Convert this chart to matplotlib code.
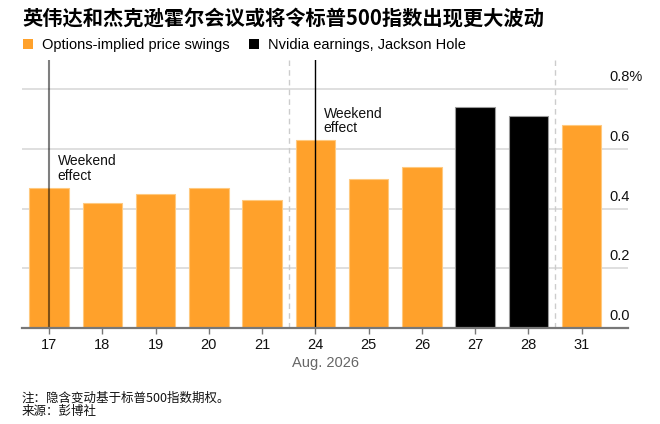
import matplotlib
matplotlib.use("Agg")
import matplotlib.pyplot as plt
from matplotlib.patches import Patch

# ---- data ----
days = ["17", "18", "19", "20", "21", "24", "25", "26", "27", "28", "31"]
swings = [0.47, 0.42, 0.45, 0.47, 0.43, 0.63, 0.50, 0.54, 0.74, 0.71, 0.68]
event_days = ["27", "28"]
weekend_days = ["17", "24"]
ytick_vals = [0.0, 0.2, 0.4, 0.6, 0.8]
ytick_labels = ["0.0", "0.2", "0.4", "0.6", "0.8%"]
title = "英伟达和杰克逊霍尔会议或将令标普500指数出现更大波动"
legend_labels = ["Options-implied price swings", "Nvidia earnings, Jackson Hole"]
annotation_text = "Weekend\neffect"
xlabel = "Aug. 2026"
note_lines = ["注：隐含变动基于标普500指数期权。", "来源：彭博社"]

ORANGE = "#FFA12B"
ORANGE_EDGE = "#FFC97F"
BLACK = "#000000"
LATIN = ["Liberation Sans", "DejaVu Sans"]
CJK = ["Noto Sans CJK SC", "DejaVu Sans"]

plt.rcParams["font.family"] = LATIN

fig = plt.figure(figsize=(6.6, 4.24), dpi=100)
ax = fig.add_axes([22 / 660, 1 - 328 / 424, 606 / 660, 268 / 424])

x = list(range(len(days)))
colors = [BLACK if d in event_days else ORANGE for d in days]
edges = ["#9a9a9a" if d in event_days else ORANGE_EDGE for d in days]
ax.bar(x, swings, width=0.74, color=colors, edgecolor=edges, linewidth=0.8, zorder=2)

ax.set_xlim(-0.51, len(days) - 1 + 0.87)
ax.set_ylim(0, 0.8975)

# gridlines
for v in ytick_vals[1:]:
    ax.axhline(v, color="#dcdcdc", lw=1.3, zorder=1)
ax.set_yticks([])
for v, lab in zip(ytick_vals, ytick_labels):
    ax.annotate(lab, xy=(0.9686, v), xycoords=("axes fraction", "data"),
                xytext=(0, 3.5), textcoords="offset points",
                ha="left", va="bottom", fontsize=10.5, color="#111111")

# week separators (dashed)
for i in range(1, len(days)):
    if int(days[i]) - int(days[i - 1]) > 1:
        ax.axvline(i - 0.5, color="#cccccc", lw=1.0, ls=(0, (4, 3)), zorder=1)

# weekend-effect lines and annotations
for d in weekend_days:
    i = days.index(d)
    if i == 0:
        ax.axvline(i, color="black", alpha=0.5, lw=1.5, zorder=3)
    else:
        ax.axvline(i, color="black", lw=1.0, zorder=3)
    ax.annotate(annotation_text, xy=(i, swings[i]), xycoords="data",
                xytext=(6, 24), textcoords="offset points",
                ha="left", va="top", fontsize=10, linespacing=1.05, color="#111111")

# x axis
ax.set_xticks(x)
ax.set_xticklabels(days, fontsize=10.5, color="#111111")
ax.tick_params(axis="x", length=4, width=1, color="#777777", pad=3)
for s in ["top", "right", "left"]:
    ax.spines[s].set_visible(False)
ax.spines["bottom"].set_color("#777777")
ax.spines["bottom"].set_linewidth(1.6)
ax.spines["bottom"].set_zorder(4)
ax.set_xlabel(xlabel, fontsize=10.5, color="#666666", labelpad=3)

# title
fig.text(22 / 660, 1 - 18 / 424, title, fontsize=14.6, fontweight="bold",
         family=CJK, ha="left", va="center", color="#000000")

# legend
handles = [Patch(facecolor=ORANGE, edgecolor="none"), Patch(facecolor=BLACK, edgecolor="none")]
fig.legend(handles, legend_labels, loc="center left", bbox_to_anchor=(20 / 660, 1 - 45 / 424),
           ncol=2, frameon=False, fontsize=10.5, handlelength=0.72, handleheight=0.72,
           handletextpad=0.6, columnspacing=1.3, borderaxespad=0, borderpad=0.2)

# notes
for k, line in enumerate(note_lines):
    fig.text(22 / 660, 1 - (398 + 14 * k) / 424, line, fontsize=9, family=CJK,
             ha="left", va="center", color="#111111")

fig.savefig("out.png", dpi=100)
